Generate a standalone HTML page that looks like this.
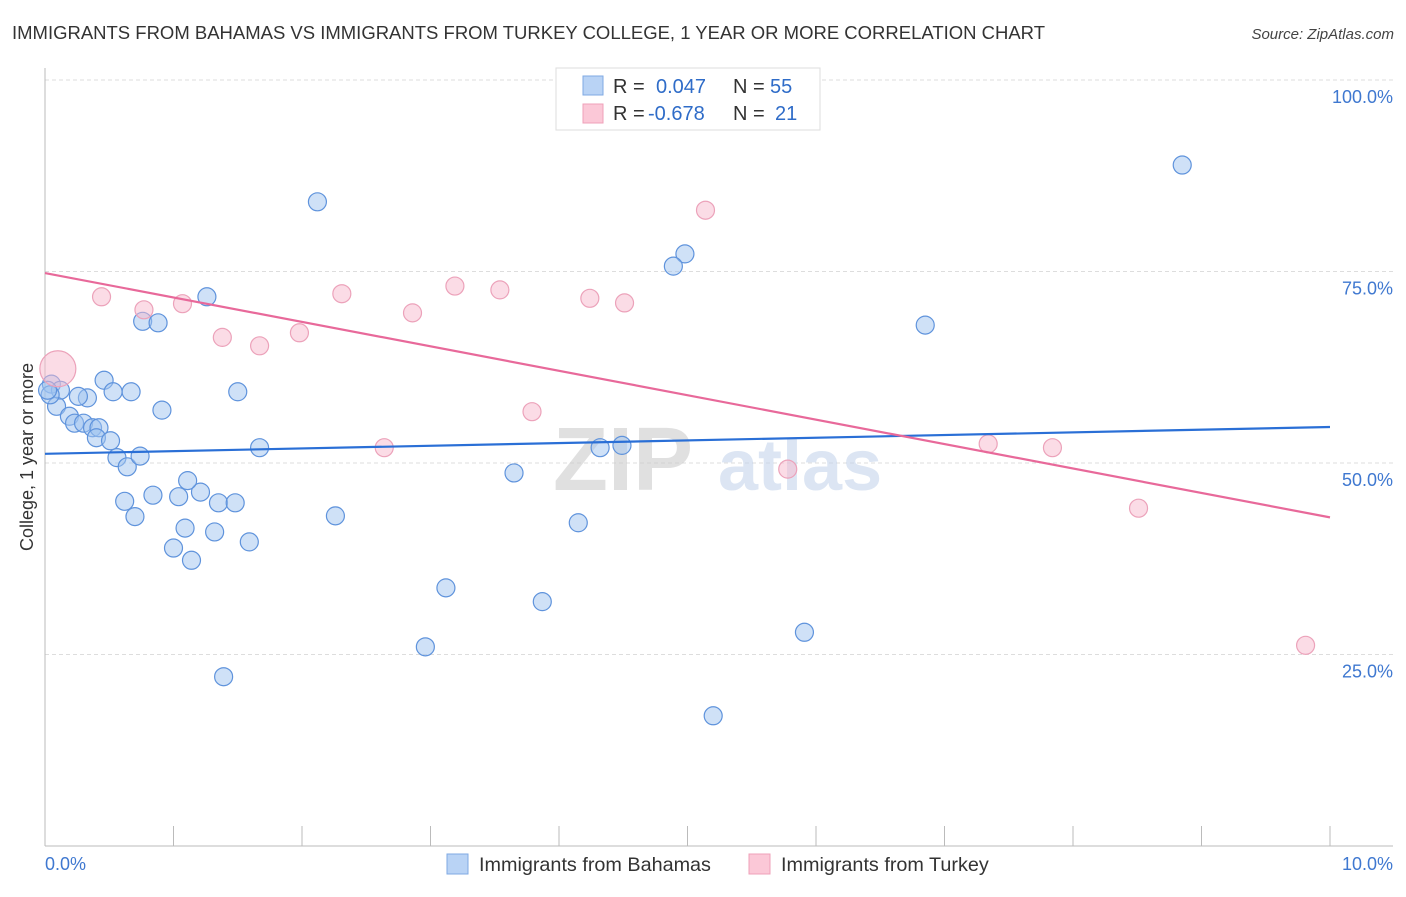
<!DOCTYPE html>
<html><head><meta charset="utf-8"><style>
body{margin:0;background:#fff;font-family:"Liberation Sans",sans-serif}
svg text{font-family:"Liberation Sans",sans-serif}
</style></head><body>
<svg id="chart" width="1406" height="892" xmlns="http://www.w3.org/2000/svg">
<text x="12" y="39" font-size="18.5" fill="#333" textLength="1033" lengthAdjust="spacingAndGlyphs">IMMIGRANTS FROM BAHAMAS VS IMMIGRANTS FROM TURKEY COLLEGE, 1 YEAR OR MORE CORRELATION CHART</text>
<text x="1394" y="39" font-size="15" fill="#444" text-anchor="end" font-style="italic">Source: ZipAtlas.com</text>
<g id="grid"></g>
<g opacity="0.6">
<text x="553" y="490" font-size="90" fill="#ccc" font-family="Liberation Serif" font-weight="bold">ZIP</text>
<text x="718" y="490" font-size="72" fill="#c5d5ec" font-weight="bold">atlas</text>
</g>
<text transform="translate(33,457) rotate(-90)" font-size="18" fill="#333" text-anchor="middle">College, 1 year or more</text>
<g id="marks"></g>
<g>
<rect x="556" y="68" width="264" height="62" fill="#fff" stroke="#ddd"/>
<rect x="583" y="76" width="20" height="19" fill="#b9d3f5" stroke="#7fa9e3"/>
<rect x="583" y="104" width="20" height="19" fill="#fbc8d7" stroke="#efa0b8"/>
<text x="613" y="93" font-size="20" fill="#333">R = <tspan x="656" fill="#2f6cc8">0.047</tspan><tspan x="733" fill="#333">N = </tspan><tspan x="770" fill="#2f6cc8">55</tspan></text>
<text x="613" y="120" font-size="20" fill="#333">R = <tspan x="648" fill="#2f6cc8">-0.678</tspan><tspan x="733" fill="#333">N = </tspan><tspan x="775" fill="#2f6cc8">21</tspan></text>
</g>
<g>
<rect x="447" y="854" width="21" height="20" fill="#b9d3f5" stroke="#7fa9e3"/>
<text x="479" y="871" font-size="19.8" fill="#333">Immigrants from Bahamas</text>
<rect x="749" y="854" width="21" height="20" fill="#fbc8d7" stroke="#efa0b8"/>
<text x="781" y="871" font-size="19.8" fill="#333">Immigrants from Turkey</text>
</g>
</svg>
<script>
const yTicks=[100,75,50,25];
const yTickLabels=["100.0%","75.0%","50.0%","25.0%"];
const xTickVals=[0,1,2,3,4,5,6,7,8,9,10];
const blueX=[2.12,8.85,4.98,4.89,6.85,1.26,0.76,0.88,0.46,0.53,0.67,1.50,0.05,0.12,0.09,0.19,0.23,0.33,0.26,0.91,0.30,0.37,0.42,0.40,0.51,0.56,0.64,0.74,1.67,4.32,4.49,3.65,0.84,0.62,1.04,1.21,1.35,1.48,1.11,0.70,2.26,4.15,1.09,1.32,1.00,1.59,1.14,3.12,3.87,5.91,2.96,1.39,5.20,0.04,0.02];
const blueY=[84.1,88.9,77.3,75.7,68.0,71.7,68.5,68.3,60.8,59.3,59.3,59.3,60.3,59.5,57.4,56.1,55.2,58.5,58.7,56.9,55.2,54.6,54.6,53.3,52.9,50.7,49.5,50.9,52.0,52.0,52.3,48.7,45.8,45.0,45.6,46.2,44.8,44.8,47.7,43.0,43.1,42.2,41.5,41.0,38.9,39.7,37.3,33.7,31.9,27.9,26.0,22.1,17.0,58.9,59.5];
const pinkX=[0.10,0.44,0.77,1.07,1.38,1.67,1.98,2.31,2.86,3.19,3.54,3.79,4.24,4.51,5.14,2.64,5.78,7.34,7.84,8.51,9.81];
const pinkY=[62.3,71.7,70.0,70.8,66.4,65.3,67.0,72.1,69.6,73.1,72.6,56.7,71.5,70.9,83.0,52.0,49.2,52.5,52.0,44.1,26.2];
const pinkSize=[2,1,1,1,1,1,1,1,1,1,1,1,1,1,1,1,1,1,1,1,1];
const blueTrend=[51.2,54.7];
const pinkTrend=[74.8,42.9];
const X0=45,X1=1330,Y0=846,YTOP=80;
const xs=v=>X0+v*(X1-X0)/10;
const ys=v=>Y0-v*(Y0-YTOP)/100;
const NS="http://www.w3.org/2000/svg";
const grid=document.getElementById('grid'),marks=document.getElementById('marks');
function mk(tag,attrs,parent){const e=document.createElementNS(NS,tag);for(const k in attrs)e.setAttribute(k,attrs[k]);parent.appendChild(e);return e;}
yTicks.forEach((t,i)=>{
 const l=mk('line',{x1:X0,x2:1393,y1:ys(t),y2:ys(t),stroke:'#ddd','stroke-dasharray':'4,3'},grid);
 
 
 const tx=mk('text',{x:1393,y:ys(t)+23,'font-size':18,fill:'#3f78d0','text-anchor':'end'},grid);
 tx.textContent=yTickLabels[i];
 
 
});
const ax=mk('line',{x1:X0,x2:X0,y1:68,y2:Y0,stroke:'#bbb'},grid);


const bx=mk('line',{x1:X0,x2:1393,y1:Y0,y2:Y0,stroke:'#bbb'},grid);


xTickVals.forEach(v=>{
 const t=mk('line',{x1:xs(v),x2:xs(v),y1:826,y2:Y0,stroke:'#bbb'},grid);
 
 
});
const xl0=mk('text',{x:45,y:870,'font-size':18,fill:'#3f78d0'},grid);xl0.textContent='0.0%';


const xl1=mk('text',{x:1393,y:870,'font-size':18,fill:'#3f78d0','text-anchor':'end'},grid);xl1.textContent='10.0%';


blueX.forEach((x,i)=>{
 const c=mk('circle',{cx:xs(x),cy:ys(blueY[i]),r:9,fill:'rgba(160,195,240,0.5)',stroke:'#5f93dc','stroke-width':1.2},marks);
 
 
});
pinkX.forEach((x,i)=>{
 const c=mk('circle',{cx:xs(x),cy:ys(pinkY[i]),r:9*pinkSize[i],fill:'rgba(247,185,205,0.5)',stroke:'#eca2ba','stroke-width':1.2},marks);
 
 
});
const bl=mk('line',{x1:xs(0),x2:xs(10),y1:ys(blueTrend[0]),y2:ys(blueTrend[1]),stroke:'#2a6fd6','stroke-width':2.2},marks);


const pl=mk('line',{x1:xs(0),x2:xs(10),y1:ys(pinkTrend[0]),y2:ys(pinkTrend[1]),stroke:'#e8699a','stroke-width':2.2},marks);


</script>
</body></html>
